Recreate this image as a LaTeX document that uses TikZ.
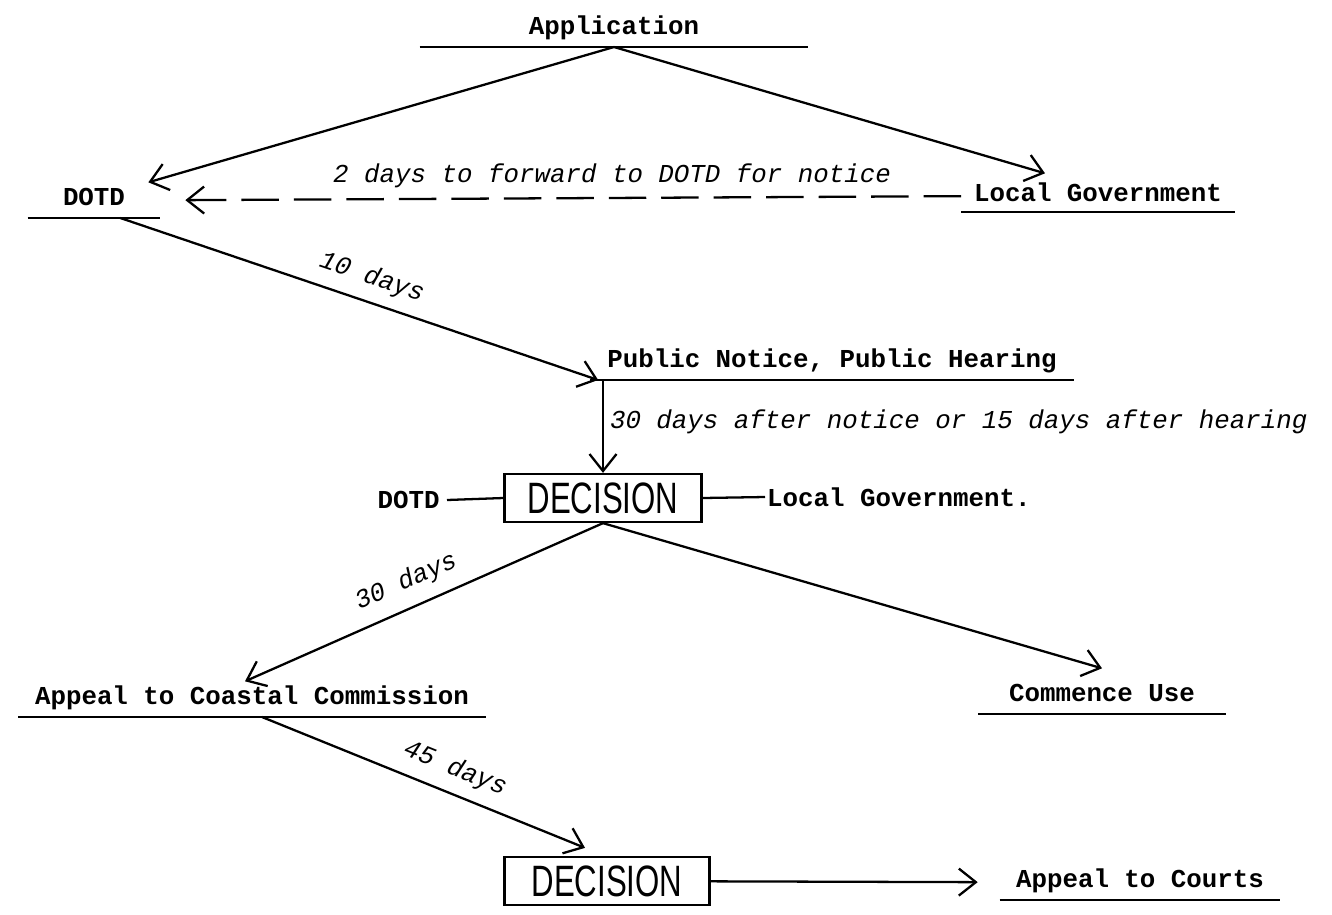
\documentclass[tikz,border=0pt]{standalone}
\usepackage{fontspec}
\usepackage{graphicx}
\usetikzlibrary{arrows.meta, positioning}
\newfontfamily\typefont{Liberation Mono}
\newfontfamily\boxfont{Liberation Sans}

\begin{document}
\begin{tikzpicture}[
x=0.02cm, y=-0.02cm,
stage/.style={font=\typefont\bfseries\fontsize{14.7}{17}\selectfont,
anchor=south, inner xsep=0pt, inner ysep=0.16cm,
text height=0.3cm, text depth=0.08cm, minimum width=#1,
append after command={(\tikzlastnode.south west) edge[line width=1.3pt] (\tikzlastnode.south east)}},
stage/.default=3cm,
plain/.style={font=\typefont\bfseries\fontsize{14.7}{17}\selectfont, inner xsep=0.14cm},
lab/.style={font=\typefont\itshape\fontsize{14.7}{17}\selectfont},
decision/.style={draw, line width=1.3pt, inner sep=0pt,
minimum width=3.94cm, minimum height=0.96cm,
font=\boxfont\fontsize{25}{30}\selectfont},
link/.style={line width=1.3pt},
arrow/.style={-{Straight Barb[length=3.4mm, width=5.4mm]}, line width=1.3pt}
]
\useasboundingbox (0,0) rectangle (1332,914);

\node[stage=7.76cm] (app) at (614,47) {Application};
\node[stage=2.64cm] (dotd) at (94,218) {DOTD};
\node[stage=5.46cm, inner ysep=0.12cm] (locgov) at (1098,212) {Local Government};
\node[stage=9.66cm] (pubnot) at (832,380) {Public Notice, Public Hearing};
\node[decision] (dec1) at (603,498) {\scalebox{0.71}[1]{DECISION}};
\node[plain, anchor=east] (dotdside) at (447,500) {DOTD};
\node[plain, anchor=west, inner xsep=1pt] (locside) at (765,497) {Local Government.};
\node[stage=9.34cm] (appeal) at (252,717) {Appeal to Coastal Commission};
\node[stage=4.94cm] (commence) at (1102,714) {Commence Use};
\node[decision, minimum width=4.1cm] (dec2) at (607,881) {\scalebox{0.71}[1]{DECISION}};
\node[stage=5.6cm] (courts) at (1140,900) {Appeal to Courts};

\draw[arrow] (app.south) -- ([xshift=-0.24cm]dotd.north east);
\draw[arrow] (app.south) -- ([xshift=-1.06cm, yshift=0.14cm]locgov.north);
\draw[arrow, dash pattern=on 0.75cm off 0.3cm] (locgov.west) -- ([xshift=0.5cm]dotd.east)
  node[lab, pos=0.45, above=2pt] {2 days to forward to DOTD for notice};
\draw[arrow] ([xshift=-0.8cm]dotd.south east) -- ([xshift=0.16cm]pubnot.south west)
  node[lab, pos=0.51, above=3pt, sloped] {10 days};
\draw[arrow] (dec1.north |- pubnot.south) -- (dec1.north)
  node[lab, pos=0.45, right] {30 days after notice or 15 days after hearing};
\draw[link] (dotdside.east) -- (dec1.west);
\draw[link] (dec1.east) -- (locside.west);
\draw[arrow] (dec1.south) -- ([xshift=-0.14cm]appeal.north)
  node[lab, pos=0.52, above=4pt, sloped] {30 days};
\draw[arrow] (dec1.south) -- ([yshift=0.2cm]commence.north);
\draw[arrow] ([xshift=0.2cm]appeal.south) -- ([xshift=-0.44cm, yshift=0.16cm]dec2.north)
  node[lab, pos=0.57, above=3pt, sloped] {45 days};
\draw[arrow] (dec2) -- ([xshift=-0.44cm]courts.west);

\end{tikzpicture}
\end{document}
